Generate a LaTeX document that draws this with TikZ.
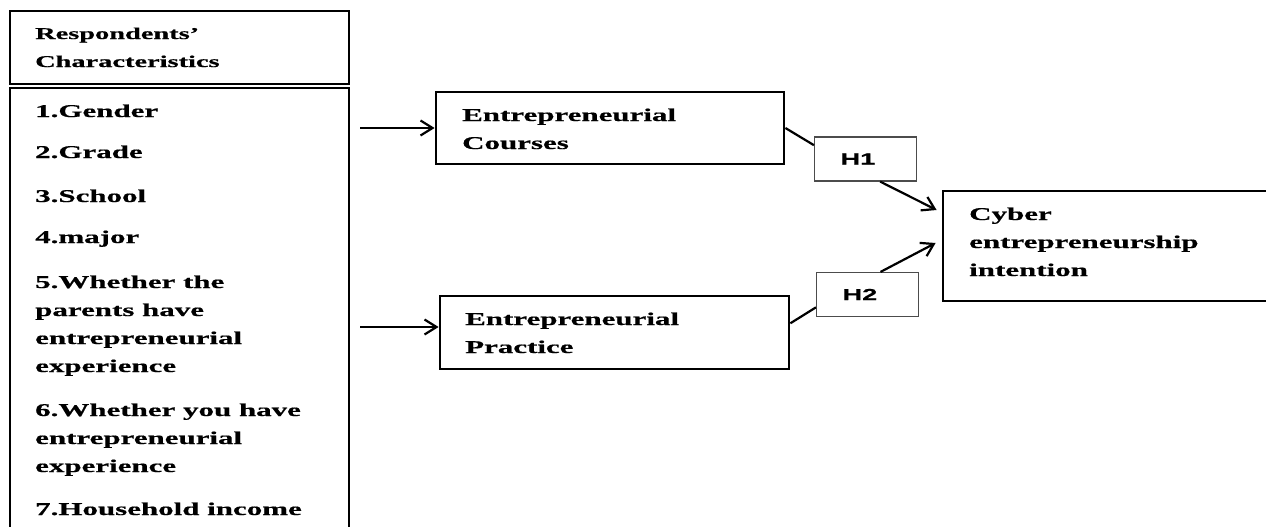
\documentclass[tikz,border=0pt]{standalone}
\usepackage{fontspec}
\newfontfamily\figserif{Liberation Serif}[FakeStretch=1.72, FakeBold=0.6]
\newfontfamily\figsans{Liberation Sans}[FakeStretch=1.7, FakeBold=0.6]
\usetikzlibrary{arrows.meta, calc}

\tikzset{
  box/.style={draw, line width=2.8pt, inner sep=0pt},
  hbox/.style={draw=black!70, line width=1.2pt, inner xsep=26pt, inner ysep=0pt,
    text width=50pt, align=left, minimum width=102pt, minimum height=44pt,
    font=\figsans\bfseries\fontsize{16}{18}\selectfont},
  txt/.style={anchor=base west, inner sep=0pt, align=left,
    font=\figserif\bfseries\fontsize{18}{28}\selectfont},
  link/.style={line width=2.2pt},
}

\begin{document}
\begin{tikzpicture}[x=1pt, y=-1pt, >={Straight Barb[length=12pt,width=15pt]}]
    \useasboundingbox (0,0) rectangle (1266,527);
    \clip (0,0) rectangle (1266,527);

    % respondents (text nodes sit on the baseline of their last line)
    \node[box, minimum width=339pt, minimum height=73pt] (head) at (179.5,47.5) {};
    \node[box, minimum width=339pt, minimum height=472pt] (list) at (179.5,324) {};
    \node[txt, font=\figserif\bfseries\fontsize{16.5}{28}\selectfont] (headtxt) at (35,67) {Respondents’\\Characteristics};
    \node[txt] (item1) at (35,117) {1.Gender};
    \node[txt] (item2) at (35,158) {2.Grade};
    \node[txt] (item3) at (35,202) {3.School};
    \node[txt] (item4) at (35,243) {4.major};
    \node[txt] (item5) at (35,372) {5.Whether the\\parents have\\entrepreneurial\\experience};
    \node[txt] (item6) at (35,472) {6.Whether you have\\entrepreneurial\\experience};
    \node[txt] (item7) at (35,515) {7.Household income};

    % education
    \node[box, minimum width=348pt, minimum height=72pt] (courses) at (610,128) {};
    \node[txt] (coursestxt) at (462,149) {Entrepreneurial\\Courses};
    \node[box, minimum width=349pt, minimum height=73pt] (practice) at (614.5,332.5) {};
    \node[txt] (practicetxt) at (465,353) {Entrepreneurial\\Practice};

    % hypotheses
    \node[hbox] (h1) at (865.5,159) {H1};
    \node[hbox] (h2) at (867.5,294.5) {H2};

    % outcome
    \node[box, minimum width=357pt, minimum height=110pt] (cyber) at (1121.5,246) {};
    \node[txt] (cybertxt) at (969,276) {Cyber\\entrepreneurship\\intention};

    \coordinate (src1) at (360,128);
    \coordinate (src2) at (360,327);
    \draw[link,->] (src1) -- (courses.west);
    \draw[link,->] (src2) -- (src2 -| practice.west);
    \draw[link] (courses.east) -- (h1.165);
    \draw[link,->] (h1.-57) -- ($(cyber.west)+(-5,-36)$);
    \draw[link] (practice.3) -- (h2.194);
    \draw[link,->] (h2.60) -- ($(cyber.west)+(-6,-3)$);
\end{tikzpicture}
\end{document}
